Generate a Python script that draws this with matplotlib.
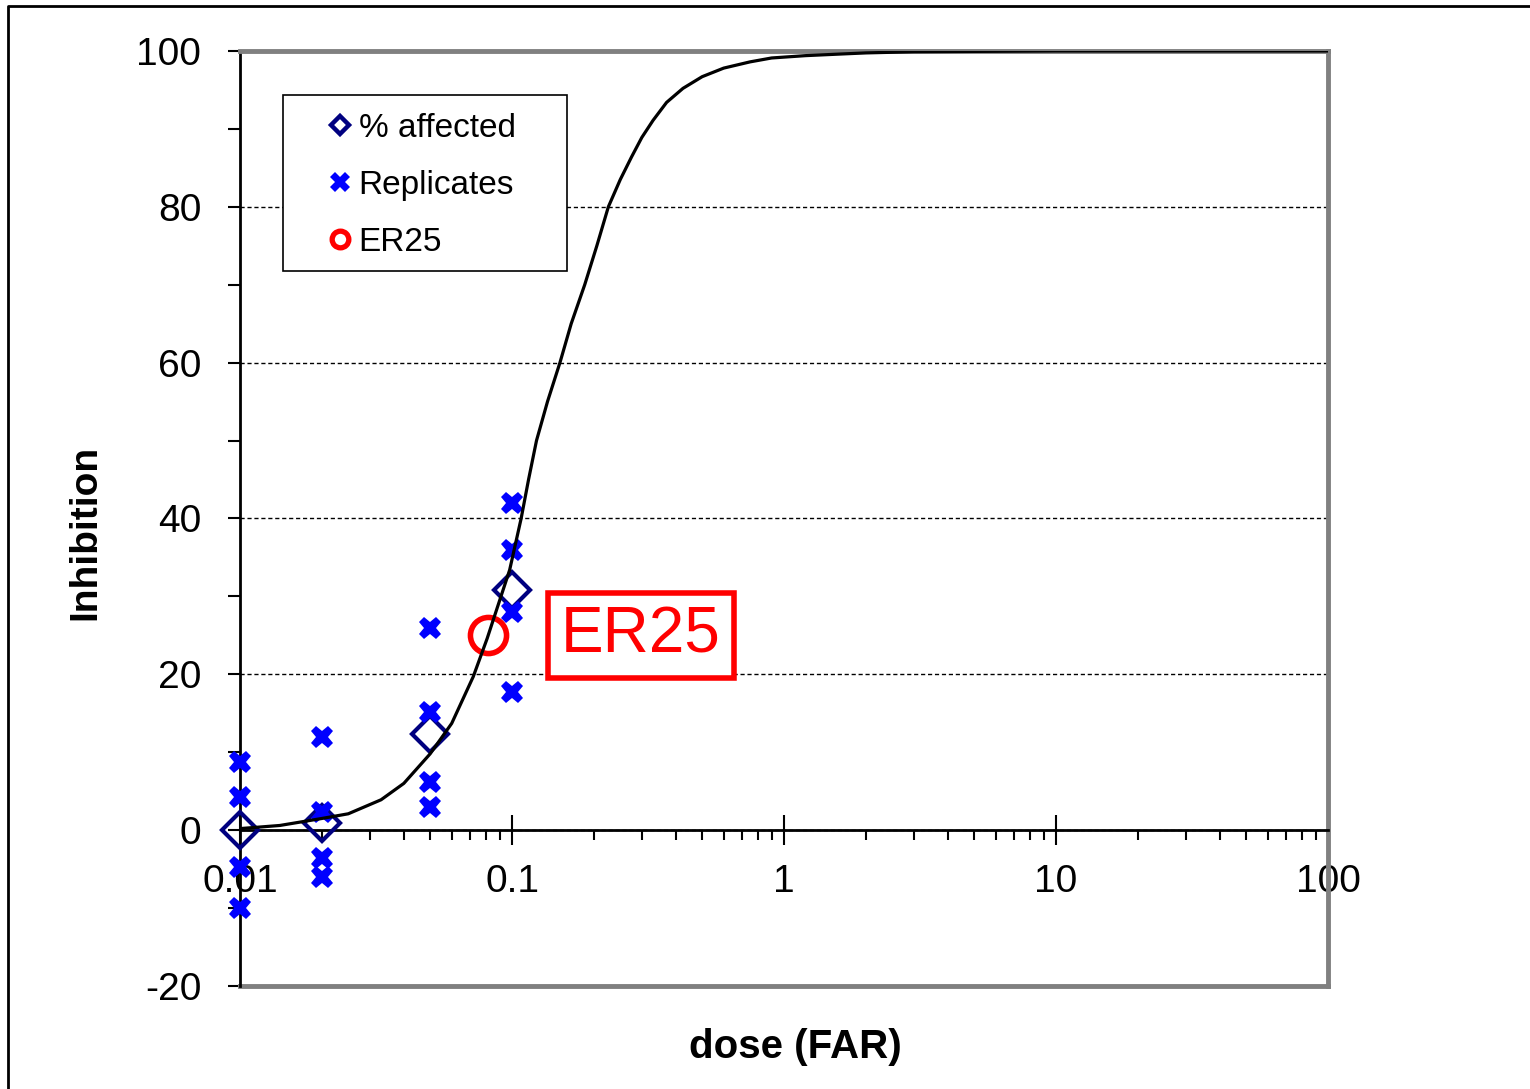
import matplotlib
matplotlib.use("Agg")
import matplotlib.pyplot as plt
from matplotlib.lines import Line2D
from matplotlib.patches import Rectangle
from matplotlib.ticker import FixedLocator, NullFormatter, MultipleLocator

plt.rcParams['font.family'] = ['Liberation Sans', 'DejaVu Sans']
plt.rcParams['axes.unicode_minus'] = False

# measured doses and responses
doses = [0.01, 0.02, 0.05, 0.1]
pct_affected = [0.0, 0.9, 12.3, 30.8]
replicates = [
    [8.7, 4.2, -4.7, -10.0],
    [11.9, 2.35, -3.6, -6.0],
    [25.9, 15.2, 6.2, 3.0],
    [42.0, 36.0, 28.0, 17.7],
]

# fitted dose-response curve
curve_dose = [0.01, 0.014, 0.02, 0.025, 0.033, 0.04, 0.05, 0.06, 0.072, 0.081,
              0.098, 0.108, 0.115, 0.123, 0.135, 0.15, 0.165, 0.185, 0.205,
              0.226, 0.25, 0.275, 0.3, 0.33, 0.37, 0.425, 0.5, 0.6, 0.75,
              0.9, 1.2, 1.6, 2.0, 3.0, 10.0, 100.0]
curve_resp = [0.2, 0.6, 1.5, 2.1, 3.9, 6.0, 9.8, 13.7, 19.7, 24.6,
              33.4, 40.0, 45.0, 50.0, 55.0, 60.0, 65.0, 70.0, 75.0,
              80.0, 83.5, 86.4, 88.9, 91.1, 93.4, 95.2, 96.7, 97.8, 98.6,
              99.1, 99.4, 99.6, 99.75, 99.9, 100.0, 100.0]

er25_dose = 0.0817
er25_value = 25

fig = plt.figure(figsize=(15.3, 10.89), dpi=100)
ax = fig.add_axes([0.1569, 0.0946, 0.7111, 0.8586])

ax.plot(doses, pct_affected, linestyle='none', marker='D', markersize=18,
        markerfacecolor='none', markeredgecolor='#000080', markeredgewidth=3,
        label='% affected', zorder=3, clip_on=False)

rep_x = [d for d, reps in zip(doses, replicates) for _ in reps]
rep_y = [v for reps in replicates for v in reps]
ax.plot(rep_x, rep_y, linestyle='none', marker='X', markersize=16.5,
        color='#0000ff', markeredgewidth=0, label='Replicates', zorder=4,
        clip_on=False)

ax.plot([er25_dose], [er25_value], linestyle='none', marker='o', markersize=26,
        markerfacecolor='none', markeredgecolor='#ff0000', markeredgewidth=4,
        label='ER25', zorder=5)

ax.plot(curve_dose, curve_resp, color='black', linewidth=2.3, zorder=6)

ax.text(0.298, er25_value, 'ER25', color='#ff0000', fontsize=46,
        ha='center', va='center', zorder=7,
        bbox=dict(boxstyle='square,pad=0.2', facecolor='white',
                  edgecolor='#ff0000', linewidth=4))

ax.set_xscale('log')
ax.set_xlim(0.01, 100)
ax.set_ylim(-20, 100)

# axes frame: black y axis, x axis through zero, grey border elsewhere
ax.spines['left'].set_color('black')
ax.spines['left'].set_linewidth(2)
ax.spines['bottom'].set_position(('data', 0))
ax.spines['bottom'].set_color('black')
ax.spines['bottom'].set_linewidth(2)
for s in ('top', 'right'):
    ax.spines[s].set_color('#808080')
    ax.spines[s].set_linewidth(3.5)
ax.axhline(-20, color='#808080', linewidth=3.5, clip_on=False, zorder=2.5)

ax.yaxis.set_major_locator(MultipleLocator(20))
ax.yaxis.set_minor_locator(MultipleLocator(10))
ax.tick_params(axis='y', which='both', direction='out', length=9, width=1.5,
               labelsize=28, pad=19)
ax.tick_params(axis='x', which='major', direction='inout', length=21, width=1.5,
               labelsize=28, pad=14)
ax.tick_params(axis='x', which='minor', direction='out', length=7, width=1.5)
ax.xaxis.set_major_locator(FixedLocator([0.01, 0.1, 1, 10, 100]))
ax.xaxis.set_major_formatter(plt.FuncFormatter(lambda v, p: f'{v:g}'))
ax.xaxis.set_minor_formatter(NullFormatter())

ax.grid(axis='y', which='major', color='black', linestyle=(0, (3, 2)),
        linewidth=1)
ax.set_axisbelow(True)

ax.set_xlabel('dose (FAR)', fontsize=29, fontweight='bold')
ax.xaxis.set_label_coords(0.51, -0.045)
ax.set_ylabel('Inhibition', fontsize=28, fontweight='bold')
ax.yaxis.set_label_coords(-0.1255, 0.485)

# legend box drawn separately so the entries can sit with wide margins
ax.add_patch(Rectangle((0.0395, 0.7647), 0.261, 0.1882, transform=ax.transAxes,
                       facecolor='white', edgecolor='black', linewidth=1.2,
                       zorder=8, clip_on=False))
leg = ax.legend(loc='upper left', bbox_to_anchor=(0.083, 0.934),
                fontsize=24, frameon=False,
                handlelength=0.6, handletextpad=0.25, labelspacing=0.78,
                borderpad=0, borderaxespad=0)
leg.set_zorder(9)
sizes = [9, 14, 12]
widths = [3.2, 0, 3.8]
for h, ms, mw in zip(leg.legend_handles, sizes, widths):
    h.set_markersize(ms)
    h.set_markeredgewidth(mw)

# partial outer frame
fig.add_artist(Line2D([0.0052, 0.0052, 1.0], [0.0, 0.9945, 0.9945],
                      color='black', linewidth=2, transform=fig.transFigure))

fig.savefig('out.png', dpi=100)
